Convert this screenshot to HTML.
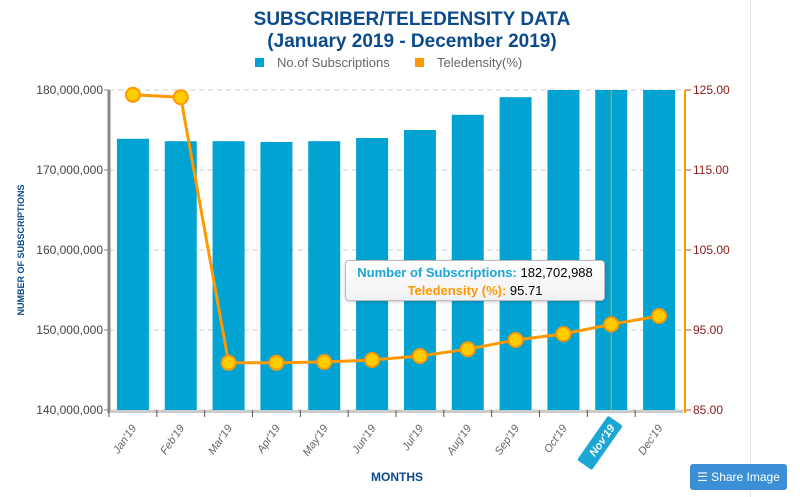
<!DOCTYPE html>
<html><head><meta charset="utf-8">
<style>
body{margin:0;background:#fff;font-family:"Liberation Sans",sans-serif;}
#wrap{position:relative;width:800px;height:497px;overflow:hidden;}
svg text{font-family:"Liberation Sans",sans-serif;}
</style></head>
<body>
<div id="wrap">
<svg id="chart" width="800" height="497">
  <line x1="750.5" y1="0" x2="750.5" y2="497" stroke="#e6e6e6"/>
  <text x="412" y="25" text-anchor="middle" font-size="19" font-weight="bold" fill="#0b4a8b">SUBSCRIBER/TELEDENSITY DATA</text>
  <text x="412" y="47" text-anchor="middle" font-size="19" font-weight="bold" fill="#0b4a8b">(January 2019 - December 2019)</text>
  <g>
    <rect x="255" y="58" width="9" height="9" fill="#00a3d1"/>
    <text x="277" y="67" font-size="13" fill="#666">No.of Subscriptions</text>
    <rect x="415" y="58" width="9" height="9" fill="#ff9900"/>
    <text x="437" y="67" font-size="13" fill="#666">Teledensity(%)</text>
  </g>
  <g id="grid"></g>
  <g id="bars"></g>
  <g id="axes"></g>
  <g id="line"></g>
  <text transform="translate(24,250) rotate(-90)" text-anchor="middle" font-size="9" font-weight="bold" fill="#0b4a8b">NUMBER OF SUBSCRIPTIONS</text>
  <text x="397" y="481" text-anchor="middle" font-size="12" font-weight="bold" fill="#0b4a8b">MONTHS</text>
</svg>
<div style="position:absolute;left:345px;top:260px;width:260px;height:41px;border:1px solid #bbb;border-radius:4px;background:linear-gradient(#fff,#f2f2f2);box-shadow:0 1px 3px rgba(0,0,0,.2);font-size:13px;text-align:center;line-height:18px;padding-top:3px;box-sizing:border-box;">
<div><b style="color:#1ba7d6">Number of Subscriptions:</b> 182,702,988</div>
<div><b style="color:#ff9900">Teledensity (%):</b> 95.71</div>
</div>
<div style="position:absolute;left:690px;top:464px;width:97px;height:26px;background:#3a8fd6;border-radius:3px;color:#fff;font-size:12px;line-height:26px;text-align:center;">&#9776; Share Image</div>
</div>
<script>
const months=["Jan'19","Feb'19","Mar'19","Apr'19","May'19","Jun'19","Jul'19","Aug'19","Sep'19","Oct'19","Nov'19","Dec'19"];
const subscriptions=[173.9,173.6,173.6,173.5,173.6,174.0,175.0,176.9,179.1,181.7,182.7,184.5];
const teledensity=[124.4,124.1,90.9,90.9,91.0,91.25,91.75,92.6,93.75,94.5,95.71,96.75];
const leftTicks=[140,150,160,170,180];
const rightTicks=[85,95,105,115,125];
const NS="http://www.w3.org/2000/svg";
const X0=109,X1=683,Y0=410,Y1=90;
const slot=(X1-X0)/months.length;
const xc=i=>X0+slot*(i+0.5);
const yL=v=>Y0-(Math.min(v,180)-140)/40*(Y0-Y1);
const yR=v=>Y0-(v-85)/40*(Y0-Y1);
function mk(tag,attrs,parent){const e=document.createElementNS(NS,tag);for(const k in attrs)e.setAttribute(k,attrs[k]);parent.appendChild(e);return e;}
const grid=document.getElementById('grid'),bars=document.getElementById('bars'),axes=document.getElementById('axes'),line=document.getElementById('line');
leftTicks.forEach((t,i)=>{
  const y=yL(t);
  const g=mk('line',{x1:X0,x2:X1,y1:y,y2:y,stroke:'#ccc','stroke-dasharray':'5,4'},grid);
  
  
  const tx=mk('text',{x:X0-6,y:y+4,'text-anchor':'end','font-size':12,fill:'#444'},axes);
  tx.textContent=t.toLocaleString('en-US')+',000,000';
  
  
  mk('line',{x1:X0-5,x2:X0,y1:y,y2:y,stroke:'#888'},axes);
});
rightTicks.forEach(t=>{
  const y=yR(t);
  mk('line',{x1:X1+2,x2:X1+8,y1:y,y2:y,stroke:'#a0522d'},axes);
  const tx=mk('text',{x:X1+10,y:y+4,'font-size':12,fill:'#8b1a1a'},axes);
  tx.textContent=t.toFixed(2);
  
  
});
subscriptions.forEach((v,i)=>{
  const y=yL(v);
  const r=mk('rect',{x:xc(i)-16,y:y,width:32,height:Y0-y,fill:'#00a3d1'},bars);
  
  
});
mk('line',{x1:X0,x2:X0,y1:Y1,y2:Y0+3,stroke:'#888','stroke-width':3},axes);
mk('line',{x1:X1+2,x2:X1+2,y1:Y1,y2:Y0+3,stroke:'#ff9900','stroke-width':2},axes);
mk('rect',{x:X0,y:Y0,width:X1-X0,height:3,fill:'#ccc'},axes);
months.forEach((m,i)=>{
  mk('line',{x1:X0+slot*i,x2:X0+slot*i,y1:Y0,y2:Y0+7,stroke:'#555'},axes);
  const x=xc(i),y=Y0+14;
  if(i===10){
    const hl=mk('line',{x1:x,x2:x,y1:Y1,y2:Y0,stroke:'#ff9900','stroke-width':1},line);
    
    
    const bg=mk('rect',{x:-48,y:-13,width:54,height:18,rx:2,fill:'#1ba7d6',transform:`translate(${x+4},${y+4}) rotate(-55)`},axes);
    
    
  }
  const t=mk('text',{x:x+4,y:y+4,'text-anchor':'end','font-size':11,'font-style':'italic',fill:i===10?'#fff':'#666','font-weight':i===10?'bold':'normal',transform:`rotate(-55 ${x+4} ${y+4})`},axes);
  t.textContent=m;
  
  
});
mk('polyline',{points:teledensity.map((v,i)=>xc(i)+','+yR(v)).join(' '),fill:'none',stroke:'#ff9900','stroke-width':3},line);
teledensity.forEach((v,i)=>{
  const c=mk('circle',{cx:xc(i),cy:yR(v),r:7,fill:'#ffcc00',stroke:'#ff9900','stroke-width':2},line);
  
  
});
</script>
</body></html>
